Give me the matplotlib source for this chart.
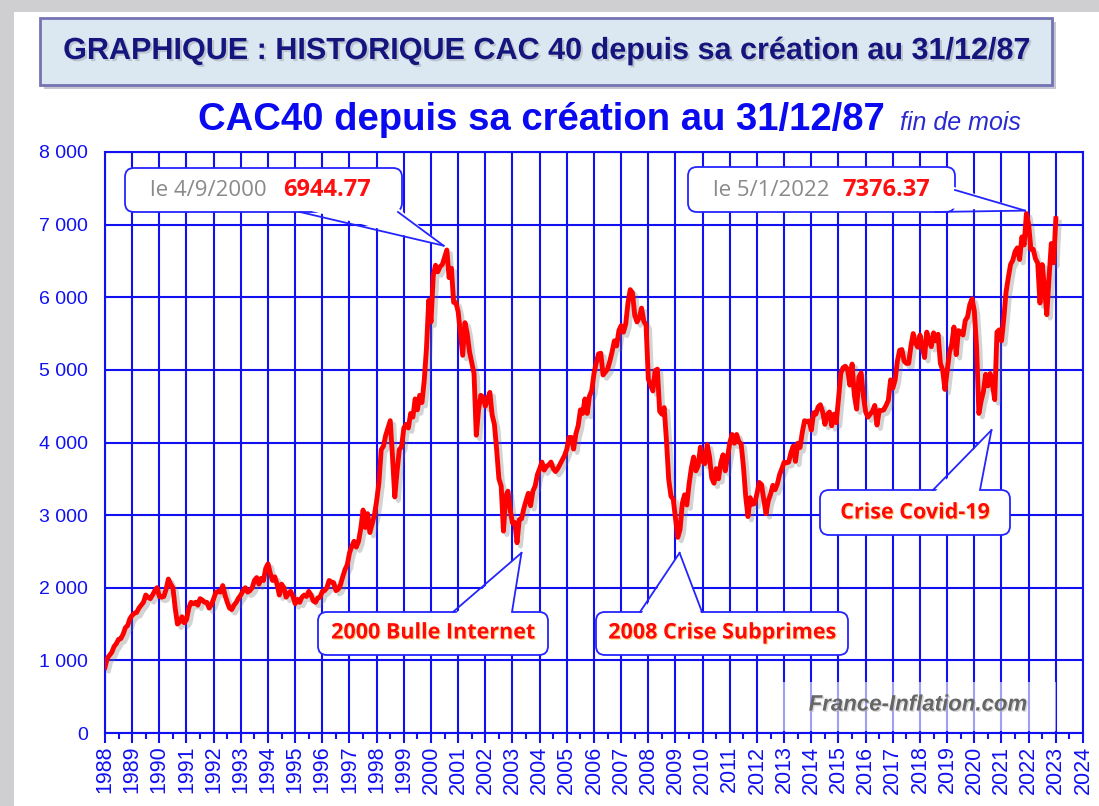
import numpy as np
import matplotlib.pyplot as plt
import matplotlib.patheffects as pe
from matplotlib.patches import FancyBboxPatch, Polygon
from matplotlib.lines import Line2D
from matplotlib.transforms import IdentityTransform

plt.rcParams['font.family'] = ['Liberation Sans', 'DejaVu Sans']

# CAC 40, cloture de fin de mois, janvier 1988 -> janvier 2023
first_year = 1988
cac40_fin_de_mois = [
    905, 1030, 1070, 1110, 1190, 1230, 1290, 1300, 1360, 1450, 1480, 1574,   # 1988
    1620, 1650, 1660, 1720, 1760, 1800, 1900, 1870, 1850, 1900, 1960, 2001,  # 1989
    1880, 1870, 1880, 1980, 2120, 2050, 2000, 1720, 1500, 1530, 1600, 1518,  # 1990
    1560, 1720, 1800, 1780, 1800, 1760, 1850, 1830, 1800, 1800, 1720, 1766,  # 1991
    1850, 1940, 1950, 1940, 2030, 1900, 1800, 1720, 1700, 1760, 1800, 1858,  # 1992
    1900, 1960, 2000, 1940, 1960, 2000, 2100, 2140, 2050, 2130, 2100, 2268,  # 1993
    2330, 2200, 2100, 2150, 2050, 1900, 2050, 2000, 1870, 1920, 1950, 1881,  # 1994
    1780, 1840, 1800, 1870, 1900, 1880, 1950, 1900, 1820, 1800, 1860, 1872,  # 1995
    1950, 1960, 2000, 2100, 2080, 2070, 1960, 1980, 2040, 2150, 2250, 2316,  # 1996
    2480, 2570, 2640, 2560, 2640, 2820, 3070, 2830, 3020, 2760, 2880, 2999,  # 1997
    3200, 3450, 3900, 3950, 4100, 4200, 4300, 3800, 3250, 3600, 3900, 3943,  # 1998
    4200, 4250, 4200, 4400, 4350, 4600, 4450, 4650, 4550, 4850, 5300, 5958,  # 1999
    5660, 6300, 6440, 6350, 6420, 6450, 6550, 6650, 6270, 6400, 5930, 5926,  # 2000
    5800, 5500, 5200, 5650, 5500, 5250, 5100, 4950, 4100, 4450, 4650, 4625,  # 2001
    4500, 4600, 4690, 4380, 4250, 3900, 3500, 3400, 2780, 3260, 3330, 3064,  # 2002
    2890, 2900, 2620, 2940, 2950, 3090, 3200, 3300, 3130, 3330, 3400, 3558,  # 2003
    3640, 3730, 3620, 3670, 3690, 3730, 3640, 3600, 3640, 3700, 3760, 3821,  # 2004
    3910, 4070, 4070, 3910, 4120, 4230, 4450, 4400, 4600, 4400, 4640, 4715,  # 2005
    4950, 5100, 5220, 5230, 4930, 4970, 5010, 5120, 5250, 5400, 5330, 5542,  # 2006
    5610, 5520, 5630, 5920, 6105, 6060, 5750, 5660, 5720, 5850, 5670, 5614,  # 2007
    4870, 4790, 4710, 4990, 5010, 4430, 4390, 4480, 4030, 3490, 3260, 3218,  # 2008
    2960, 2694, 2800, 3160, 3280, 3140, 3430, 3650, 3800, 3610, 3680, 3936,  # 2009
    3740, 3710, 3970, 3810, 3510, 3440, 3640, 3500, 3720, 3830, 3610, 3805,  # 2010
    4000, 4110, 3990, 4110, 4010, 3980, 3670, 3260, 2980, 3240, 3150, 3160,  # 2011
    3300, 3450, 3420, 3210, 3020, 3200, 3290, 3410, 3350, 3430, 3560, 3641,  # 2012
    3730, 3720, 3730, 3860, 3950, 3740, 3990, 3930, 4140, 4300, 4290, 4296,  # 2013
    4170, 4410, 4390, 4490, 4520, 4420, 4250, 4380, 4420, 4230, 4390, 4273,  # 2014
    4600, 4950, 5030, 5050, 5010, 4790, 5080, 4650, 4460, 4900, 4960, 4637,  # 2015
    4420, 4350, 4390, 4430, 4510, 4240, 4440, 4440, 4450, 4510, 4580, 4862,  # 2016
    4750, 4860, 5120, 5270, 5280, 5120, 5090, 5090, 5330, 5500, 5370, 5313,  # 2017
    5480, 5320, 5170, 5520, 5400, 5320, 5510, 5400, 5490, 5090, 5000, 4731,  # 2018
    4990, 5240, 5350, 5590, 5210, 5540, 5520, 5480, 5680, 5730, 5900, 5978,  # 2019
    5810, 5310, 4400, 4570, 4700, 4940, 4780, 4950, 4800, 4590, 5520, 5551,  # 2020
    5400, 5700, 6070, 6270, 6450, 6510, 6630, 6680, 6520, 6830, 6720, 7153,  # 2021
    7000, 6660, 6660, 6530, 6470, 5920, 6450, 6130, 5760, 6270, 6740, 6474,  # 2022
    7082,                                                                    # 2023
]

y_ticks = [0, 1000, 2000, 3000, 4000, 5000, 6000, 7000, 8000]
y_labels = ['0', '1 000', '2 000', '3 000', '4 000', '5 000', '6 000', '7 000', '8 000']
x_years = list(range(1988, 2025))

titre = 'GRAPHIQUE : HISTORIQUE CAC 40 depuis sa création au 31/12/87'
sous_titre = 'CAC40 depuis sa création au 31/12/87'

BLUE = '#1010f0'
W, H = 1099, 806

fig = plt.figure(figsize=(W / 100, H / 100), dpi=100)
fig.patch.set_facecolor('#cfcfd2')
ident = IdentityTransform()


def rect_px(x0, y0, x1, y1, **kw):
    # image coords (origin top-left) -> display pixels
    p = FancyBboxPatch((x0, H - y1), x1 - x0, y1 - y0, transform=ident, **kw)
    fig.add_artist(p)
    return p


# white card over gray background
rect_px(14, 12, W + 5, H + 5, boxstyle='square,pad=0', fc='white', ec='none', zorder=-5)

# title banner
rect_px(44, 22, 1056, 89, boxstyle='square,pad=0', fc='#c4c4d2', ec='none', zorder=-4)
rect_px(40, 18, 1052, 85, boxstyle='square,pad=0', fc='#dbe8f1', ec='#7474b4', lw=2, zorder=-3)
fig.text(546 / W, 1 - 51 / H, titre, ha='center', va='center', fontsize=22,
         fontweight='bold', color='#15157e',
         path_effects=[pe.withSimplePatchShadow(offset=(1.5, -1.5), shadow_rgbFace='#9090a0', alpha=0.4)])

fig.text(885 / W, 1 - 120 / H, sous_titre, ha='right', va='center', fontsize=27.5,
         fontweight='bold', color='#0a0af0')
fig.text(900 / W, 1 - 123 / H, 'fin de mois', ha='left', va='center', fontsize=18,
         style='italic', color='#2a2ad0')

# chart
ax = fig.add_axes([105 / W, 1 - 733 / H, (1083 - 105) / W, (733 - 152) / H])
ax.set_facecolor('white')
ax.set_xlim(1988, 2024)
ax.set_ylim(0, 8000)

t = first_year + np.arange(len(cac40_fin_de_mois)) / 12
ax.plot(t, cac40_fin_de_mois, color='#ff0000', lw=3.5, solid_joinstyle='round', zorder=3,
        path_effects=[pe.SimpleLineShadow(offset=(2.5, -2.5), shadow_color='#707070', alpha=0.3),
                      pe.Normal()])

ax.set_yticks(y_ticks)
ax.set_yticklabels(y_labels)
ax.set_xticks(x_years)
ax.set_xticklabels([str(y) for y in x_years], rotation=90)
ax.set_xticks(np.arange(1988.5, 2024, 1), minor=True)
ax.tick_params(axis='y', length=0, pad=12, labelsize=14, labelcolor=BLUE)
ax.tick_params(axis='x', which='major', length=7, width=1.5, color=BLUE, labelsize=15.5,
               labelcolor=BLUE, pad=2)
ax.tick_params(axis='x', which='minor', length=4, width=1.5, color=BLUE)
ax.grid(True, which='major', color=BLUE, lw=1.5)
ax.set_axisbelow(True)
for s in ax.spines.values():
    s.set_color(BLUE)
    s.set_linewidth(1.5)

# watermark
rect_px(782, 682, 1056, 731, boxstyle='square,pad=0', fc='white', ec='none', alpha=0.6, zorder=1)
fig.text(918 / W, 1 - 705 / H, 'France-Inflation.com', ha='center', va='center', fontsize=16,
         style='italic', fontweight='bold', color='#666666', zorder=2,
         path_effects=[pe.withSimplePatchShadow(offset=(1, -1), shadow_rgbFace='#b0b0b0', alpha=0.5)])


def callout(x0, y0, x1, y1, base, tip, inward):
    rect_px(x0, y0, x1, y1, boxstyle='round,pad=0,rounding_size=9', fc='white',
            ec='#2424ff', lw=1.3, zorder=5)
    b0 = (base[0][0], H - base[0][1])
    b1 = (base[1][0], H - base[1][1])
    dx, dy = inward
    fill = Polygon([(b0[0] + dx, b0[1] + dy), tip, (b1[0] + dx, b1[1] + dy)], closed=True,
                   fc='white', ec='none', transform=ident, zorder=6)
    fig.add_artist(fill)
    for b in (b0, b1):
        fig.add_artist(Line2D([b[0], tip[0]], [b[1], tip[1]], color='#2424ff', lw=1.3,
                              transform=ident, zorder=7))


def data_px(x, y):
    return tuple(ax.transData.transform((x, y)))


# peaks
i2000 = int(np.argmax(cac40_fin_de_mois[:200]))
i2022 = int(np.argmax(cac40_fin_de_mois))
callout(125, 168, 402, 212, [(300, 212), (398, 212)],
        data_px(t[i2000] - 0.12, cac40_fin_de_mois[i2000] + 60), (0, 4))
callout(688, 167, 955, 212, [(955, 190), (935, 212)],
        data_px(t[i2022] - 0.05, cac40_fin_de_mois[i2022] + 40), (-4, 4))
callout(318, 612, 548, 655, [(453, 612), (512, 612)], data_px(2003.33, 2480), (0, -4))
callout(596, 612, 848, 655, [(640, 612), (702, 612)], data_px(2009.15, 2480), (0, -4))
callout(820, 490, 1010, 535, [(933, 490), (980, 490)], data_px(2020.63, 4170), (0, -4))

lbl_font = ['Open Sans', 'DejaVu Sans']
fig.text(150 / W, 1 - 191 / H, 'le 4/9/2000', ha='left', va='center', fontsize=16,
         color='#8a8a8a', family=lbl_font, zorder=8)
fig.text(283 / W, 1 - 190 / H, '6944.77', ha='left', va='center', fontsize=17,
         fontweight='bold', color='#ff1010', family=lbl_font, zorder=8)
fig.text(713 / W, 1 - 191 / H, 'le 5/1/2022', ha='left', va='center', fontsize=16,
         color='#8a8a8a', family=lbl_font, zorder=8)
fig.text(842 / W, 1 - 190 / H, '7376.37', ha='left', va='center', fontsize=17,
         fontweight='bold', color='#ff1010', family=lbl_font, zorder=8)

crise = [('2000 Bulle Internet', 433, 633), ('2008 Crise Subprimes', 722, 633),
         ('Crise Covid-19', 915, 513)]
for txt, cx, cy in crise:
    fig.text(cx / W, 1 - cy / H, txt, ha='center', va='center', fontsize=15.5,
             fontweight='bold', color='#ff0a0a', family=lbl_font, zorder=8,
             path_effects=[pe.withSimplePatchShadow(offset=(0.8, -0.8), shadow_rgbFace='#ffb000',
                                                    alpha=0.5)])

fig.savefig('out.png', dpi=100, facecolor=fig.get_facecolor())
